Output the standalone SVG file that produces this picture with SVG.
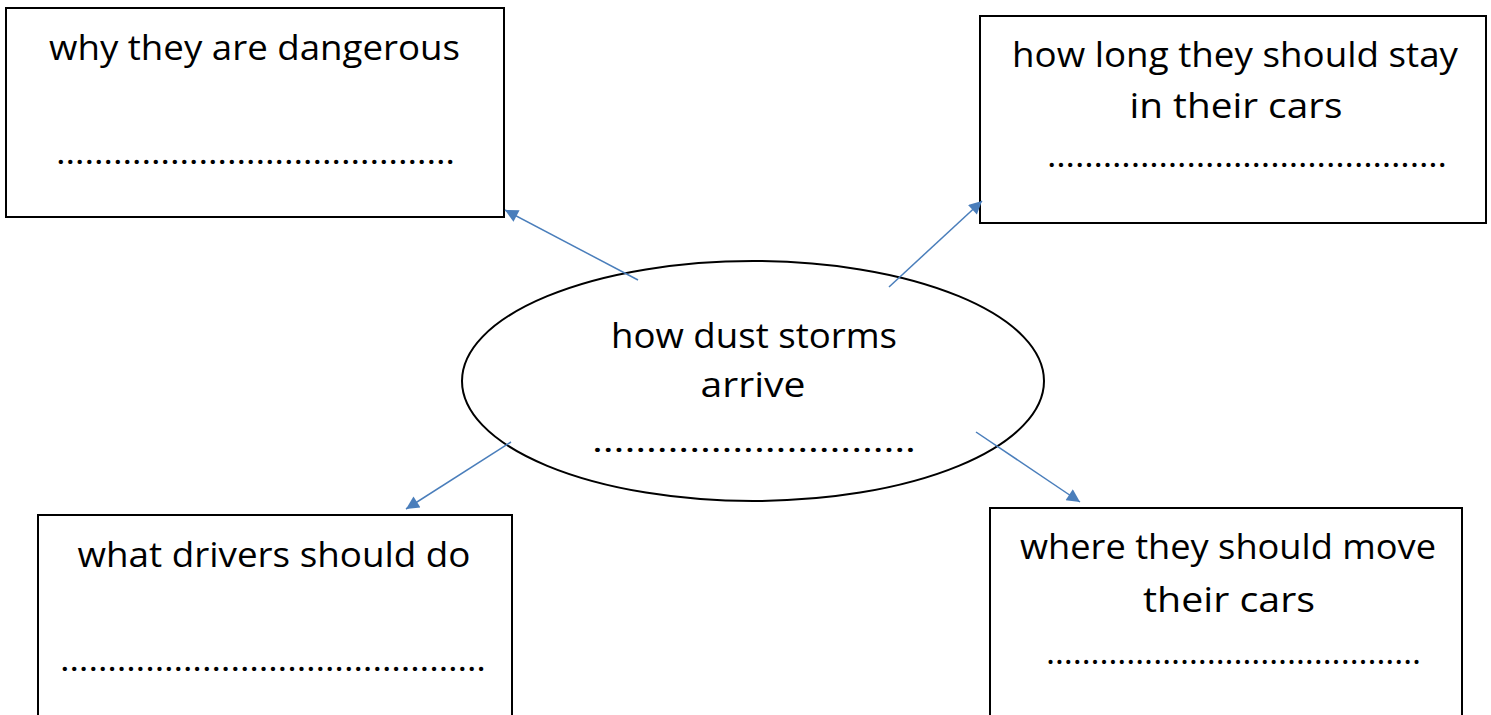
<svg xmlns="http://www.w3.org/2000/svg" width="1491" height="715" viewBox="0 0 1491 715">
<style>
.box{fill:#fff;stroke:#000;stroke-width:2}
.t{font-family:"Comic Sans MS","Open Sans","DejaVu Sans",sans-serif;font-size:34px;fill:#000;text-anchor:middle}
.d{font-family:"Comic Sans MS","Open Sans","DejaVu Sans",sans-serif;font-size:32px;fill:#000}
.c{stroke:#4a7ebb;stroke-width:1.5;fill:none}
</style>
<defs>
<marker id="ah" viewBox="0 0 10 10" refX="10" refY="5" markerWidth="16" markerHeight="13" orient="auto" markerUnits="userSpaceOnUse">
<path d="M0,0 L10,5 L0,10 z" fill="#4a7ebb"/>
</marker>
</defs>
<rect width="1491" height="715" fill="#fff"/>
<g id="node-center">
<ellipse cx="753" cy="381" rx="291" ry="120" fill="#fff" stroke="#000" stroke-width="2"/>
<text class="t" x="754" y="348" textLength="286" lengthAdjust="spacingAndGlyphs">how dust storms</text>
<text class="t" x="753" y="397" textLength="105" lengthAdjust="spacingAndGlyphs">arrive</text>
<text class="d" x="592" y="452" textLength="324" lengthAdjust="spacingAndGlyphs">…………………………</text>
</g>
<g id="node-dangerous">
<rect class="box" x="6" y="8" width="498" height="209"/>
<text class="t" x="254.5" y="60" textLength="411" lengthAdjust="spacingAndGlyphs">why they are dangerous</text>
<text class="d" x="56" y="164" textLength="399" lengthAdjust="spacingAndGlyphs">……………………………………</text>
</g>
<g id="node-stay">
<rect class="box" x="980" y="16" width="506" height="207"/>
<text class="t" x="1235" y="67" textLength="446" lengthAdjust="spacingAndGlyphs">how long they should stay</text>
<text class="t" x="1236" y="118" textLength="213" lengthAdjust="spacingAndGlyphs">in their cars</text>
<text class="d" x="1047" y="167" textLength="400" lengthAdjust="spacingAndGlyphs">…………………………………….</text>
</g>
<g id="node-drivers">
<rect class="box" x="38" y="515" width="474" height="210"/>
<text class="t" x="274" y="567" textLength="393" lengthAdjust="spacingAndGlyphs">what drivers should do</text>
<text class="d" x="60" y="671" textLength="426" lengthAdjust="spacingAndGlyphs">………………………………………</text>
</g>
<g id="node-move">
<rect class="box" x="990" y="508" width="472" height="217"/>
<text class="t" x="1228" y="559" textLength="416" lengthAdjust="spacingAndGlyphs">where they should move</text>
<text class="t" x="1229" y="612" textLength="172" lengthAdjust="spacingAndGlyphs">their cars</text>
<text class="d" x="1046" y="664" textLength="375" lengthAdjust="spacingAndGlyphs">……………………………………</text>
</g>
<g id="connectors">
<line class="c" x1="638" y1="280" x2="505" y2="210" marker-end="url(#ah)"/>
<line class="c" x1="889" y1="287" x2="982" y2="201" marker-end="url(#ah)"/>
<line class="c" x1="511" y1="442" x2="406" y2="509" marker-end="url(#ah)"/>
<line class="c" x1="976" y1="432" x2="1080" y2="502" marker-end="url(#ah)"/>
</g>
</svg>
